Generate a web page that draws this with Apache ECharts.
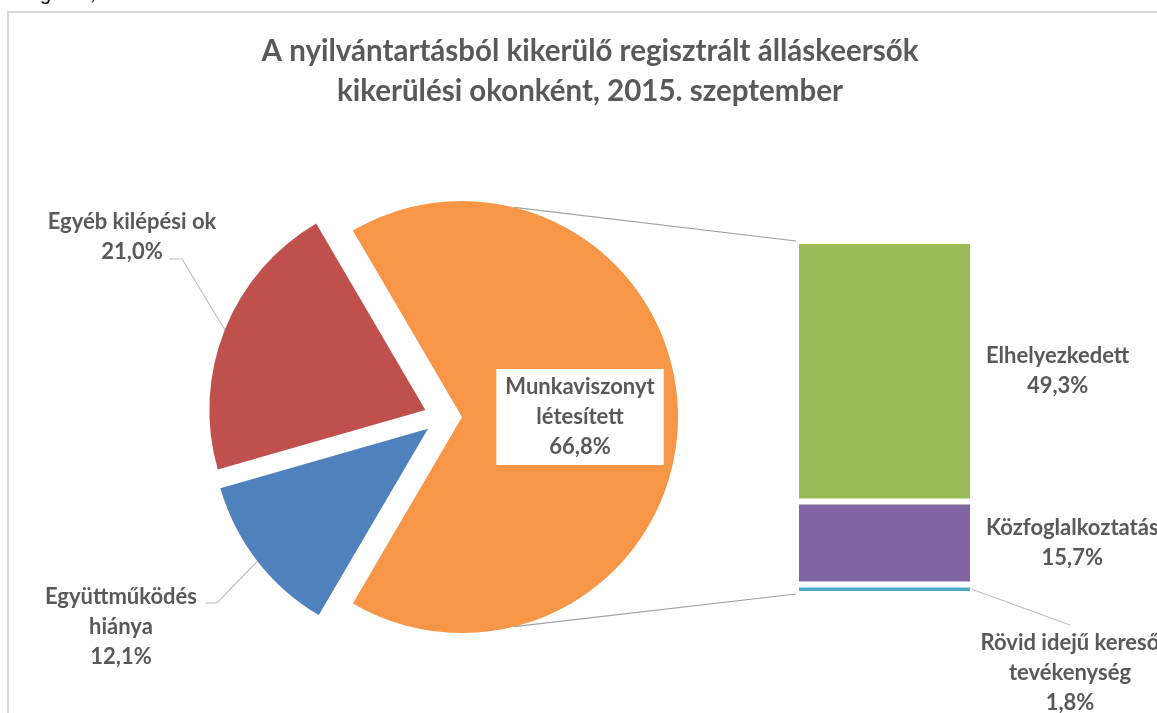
<!DOCTYPE html>
<html>
<head>
<meta charset="utf-8">
<script src="https://cdn.jsdelivr.net/npm/echarts@6/dist/echarts.min.js"></script>
<style>
  html, body { margin: 0; padding: 0; background: #fff; }
  #chart { width: 1157px; height: 713px; }
</style>
</head>
<body>
<div id="chart"></div>
<script>
// data
const titleLines = ['A nyilvántartásból kikerülő regisztrált álláskeersők', 'kikerülési okonként, 2015. szeptember'];
const pieNames = ['Munkaviszonyt\nlétesített', 'Együttműködés\nhiánya', 'Egyéb kilépési ok'];
const pieValues = [66.8, 12.1, 21.0];
const pieColors = ['#F79646', '#4F81BD', '#C0504D'];
const barNames = ['Rövid idejű kereső\ntevékenység', 'Közfoglalkoztatás', 'Elhelyezkedett'];
const barValues = [1.8, 15.7, 49.3];
const barColors = ['#4BACC6', '#8064A2', '#9BBB59'];

// layout
const CX = 443, CY = 417, R = 216, EXPLODE = 19;
const GRID = { left: 796, top: 241, width: 177, height: 353 };
const FONT = 'Lato';
const FONT_SIZE = 22;
const TEXT = '#595959';
const pieLabelPos = [null, [121, 627], [132, 237]];
const pieLeaderBend = [null, [[217, 603], [205, 603]], [[182, 259], [169, 259]]];
const tealLabelPos = [1070, 673];
const BAR_LABEL_GAP = 13;
const CONNECT_ANGLE = 76;

const pct = v => v.toFixed(1).replace('.', ',') + '%';
const pieSum = pieValues.reduce((a, b) => a + b, 0);
const barSum = barValues.reduce((a, b) => a + b, 0);
const startAngle = pieValues[0] / pieSum * 180;

function midAngle(i) {
  let acc = 0;
  for (let j = 0; j < i; j++) acc += pieValues[j];
  return startAngle - (acc + pieValues[i] / 2) / pieSum * 360;
}
function apex(i) {
  const a = midAngle(i) * Math.PI / 180;
  return [CX + EXPLODE * Math.cos(a), CY - EXPLODE * Math.sin(a)];
}
function arcPoint(i, deg) {
  const o = apex(i);
  const a = deg * Math.PI / 180;
  return [o[0] + R * Math.cos(a), o[1] - R * Math.sin(a)];
}

// Excel puts the label block next to the bar and centres the lines inside it
const measure = document.createElement('canvas').getContext('2d');
measure.font = 'bold ' + FONT_SIZE + 'px ' + FONT;
function blockHalf(text) {
  return Math.max.apply(null, text.split('\n').map(s => measure.measureText(s).width)) / 2;
}

const labelText = {
  color: TEXT,
  fontFamily: FONT,
  fontWeight: 'bold',
  fontSize: FONT_SIZE,
  lineHeight: 30
};

const chart = echarts.init(document.getElementById('chart'));

chart.setOption({
  animation: false,
  title: {
    text: titleLines.join('\n'),
    left: 590,
    top: 31,
    padding: 0,
    textAlign: 'center',
    textStyle: { color: TEXT, fontFamily: FONT, fontWeight: 'bold', fontSize: 29.5, lineHeight: 40 }
  },
  grid: GRID,
  xAxis: { type: 'category', data: [''], show: false },
  yAxis: { type: 'value', min: 0, max: barSum, show: false },
  series: [
    {
      type: 'pie',
      center: [CX, CY],
      radius: [0, R],
      startAngle: startAngle,
      selectedMode: 'multiple',
      selectedOffset: EXPLODE,
      avoidLabelOverlap: false,
      emphasis: { disabled: true },
      label: Object.assign({
        position: 'inside',
        backgroundColor: '#fff',
        padding: [3, 9, 3, 9],
        formatter: p => p.name + '\n' + pct(p.value)
      }, labelText),
      labelLine: { show: false },
      labelLayout: { dx: 7 },
      data: pieValues.map((v, i) => ({
        name: pieNames[i],
        value: v,
        selected: true,
        itemStyle: { color: pieColors[i] },
        label: { show: i === 0 }
      }))
    }
  ].concat(barValues.map((v, i) => ({
    type: 'bar',
    name: barNames[i],
    stack: 'other',
    barWidth: '100%',
    data: [v],
    emphasis: { disabled: true },
    itemStyle: { color: barColors[i], borderColor: '#fff', borderWidth: 3 },
    label: Object.assign({
      show: true,
      position: 'right',
      distance: 0,
      offset: [BAR_LABEL_GAP + blockHalf(barNames[i]), 0],
      align: 'center',
      formatter: p => p.seriesName + '\n' + pct(p.value)
    }, labelText),
    labelLayout: i === 0 ? { x: tealLabelPos[0], y: tealLabelPos[1], align: 'center', verticalAlign: 'middle' } : null
  })))
});

// connector and leader lines, placed from the chart's own scales
const topY = chart.convertToPixel({ yAxisIndex: 0 }, barSum);
const bottomY = chart.convertToPixel({ yAxisIndex: 0 }, 0);
const tealY = chart.convertToPixel({ yAxisIndex: 0 }, barValues[0] / 2);
const barRight = GRID.left + GRID.width;

const lines = [
  { points: [arcPoint(0, CONNECT_ANGLE), [GRID.left, topY]], color: '#a0a0a0' },
  { points: [arcPoint(0, -CONNECT_ANGLE), [GRID.left, bottomY]], color: '#a0a0a0' },
  { points: [[barRight - 1, tealY], [tealLabelPos[0], tealLabelPos[1] - 48]], color: '#bfbfbf' }
];
const pieOuterLabels = [];
[1, 2].forEach(i => {
  lines.push({ points: [arcPoint(i, midAngle(i))].concat(pieLeaderBend[i]), color: '#bfbfbf' });
  pieOuterLabels.push({
    type: 'text', z: 10, silent: true,
    x: pieLabelPos[i][0], y: pieLabelPos[i][1],
    style: {
      text: pieNames[i] + '\n' + pct(pieValues[i]),
      align: 'center', verticalAlign: 'middle',
      fontFamily: FONT, fontWeight: 'bold', fontSize: FONT_SIZE, lineHeight: 30,
      fill: TEXT
    }
  });
});

// bits of the page text above the chart, cut off by the crop
const cropText = { fontFamily: 'Liberation Sans', fontSize: 20, fill: '#000' };

chart.setOption({
  graphic: [
    {
      type: 'rect', z: -10, silent: true,
      shape: { x: 8, y: 12, width: 1300, height: 900 },
      style: { fill: 'none', stroke: '#d9d9d9', lineWidth: 2 }
    },
    { type: 'text', x: 40, y: -16, style: Object.assign({ text: 'g' }, cropText) },
    { type: 'text', x: 90, y: -16, style: Object.assign({ text: ',' }, cropText) }
  ].concat(pieOuterLabels, lines.map(l => ({
    type: 'polyline', silent: true, z: 5,
    shape: { points: l.points },
    style: { stroke: l.color, lineWidth: 1.2, fill: 'none' }
  })))
});
</script>
</body>
</html>
